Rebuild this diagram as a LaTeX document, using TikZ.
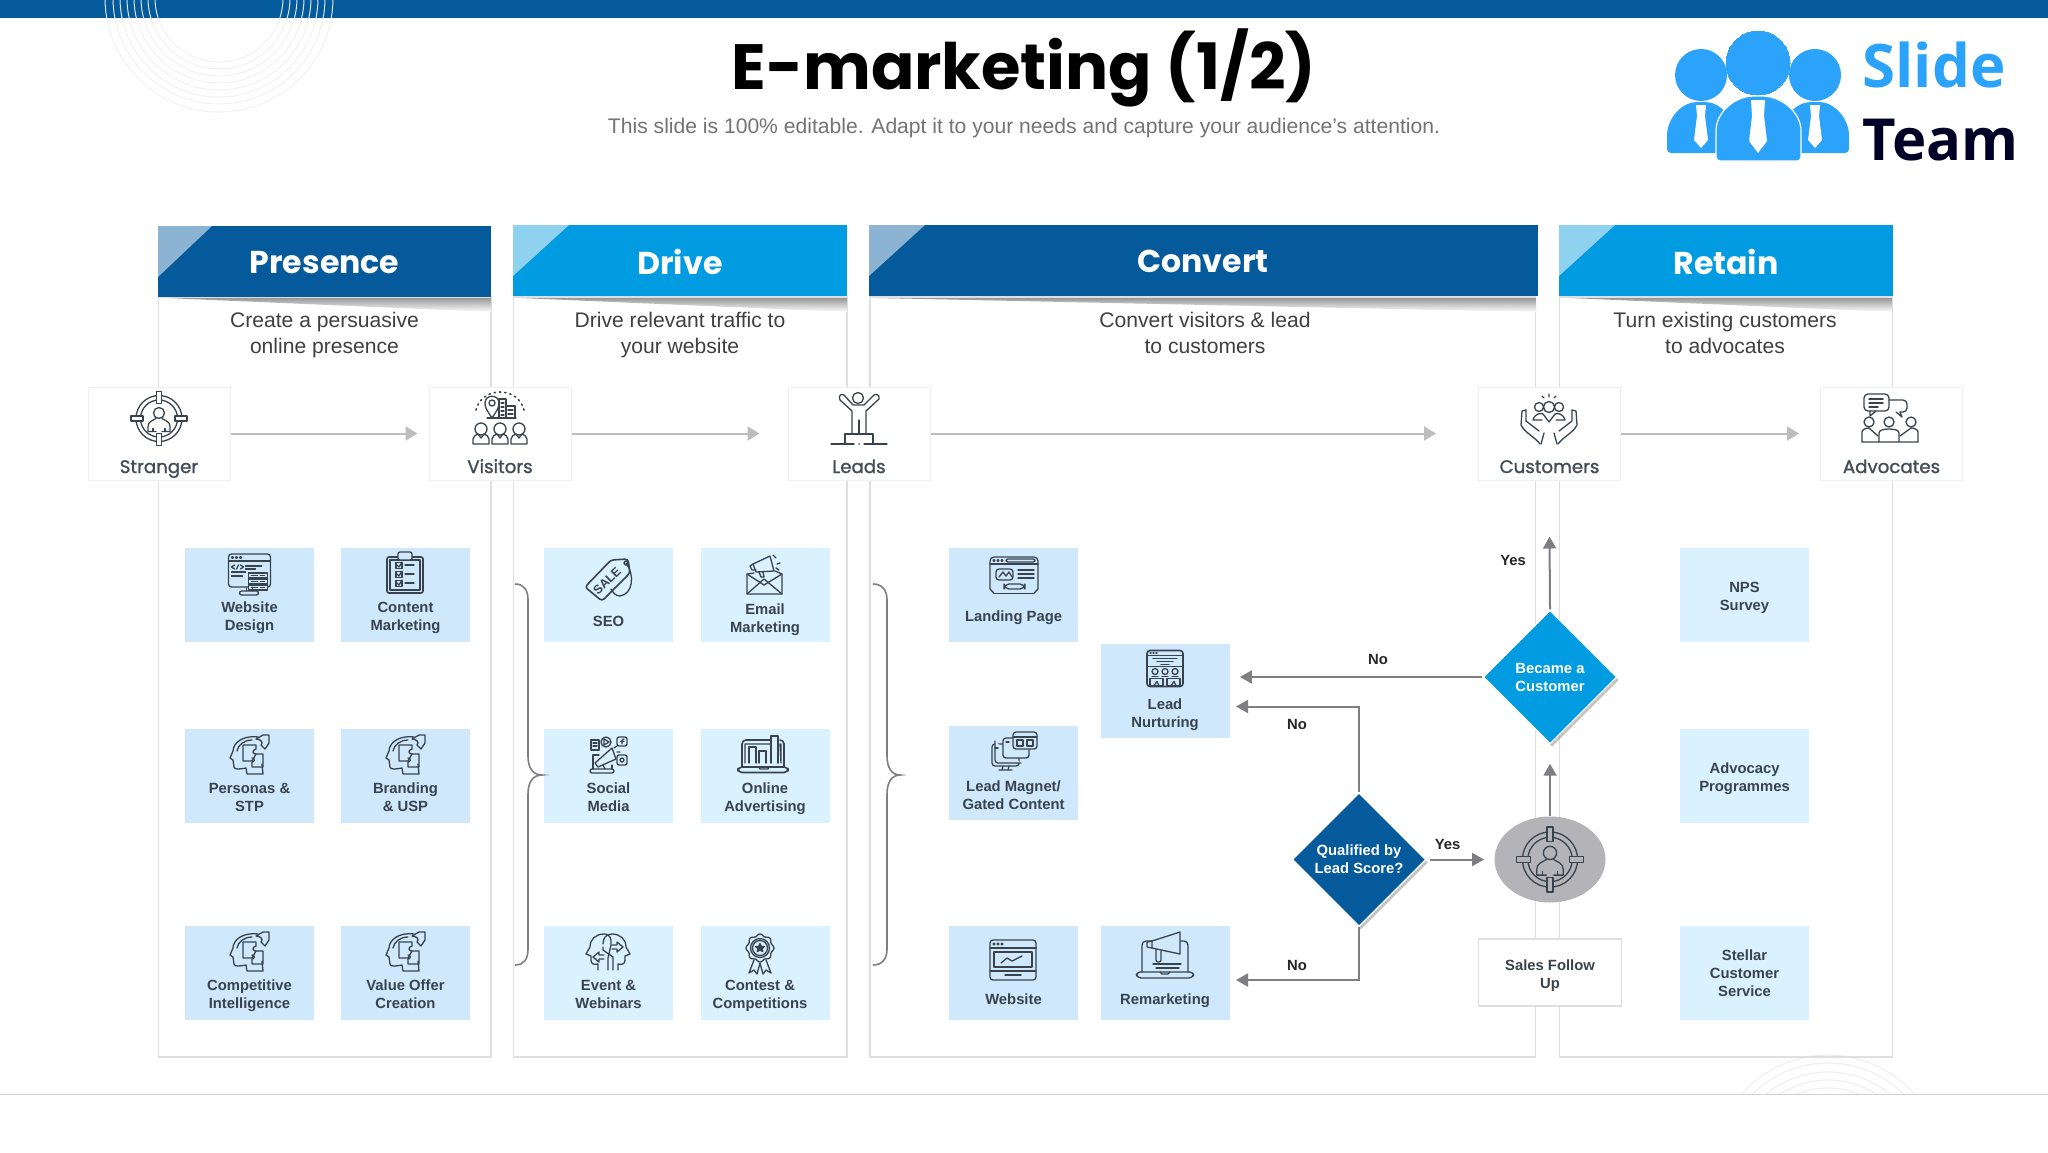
\documentclass[tikz,border=0pt]{standalone}
\usepackage{fontspec}
\setmainfont{Liberation Sans}
\newfontfamily\gothic{Poppins}
\newfontfamily\gothicmid{Poppins}[FakeBold=1.2]
\newfontfamily\logofont{Open Sans}
\usetikzlibrary{arrows.meta,shapes.geometric,shadows}
\definecolor{navy}{HTML}{055A9B}
\definecolor{sky}{HTML}{009BE0}
\definecolor{navytint}{HTML}{8DB3D2}
\definecolor{skytint}{HTML}{8FD2F0}
\definecolor{cardblue}{HTML}{CFE8FC}
\definecolor{cardpale}{HTML}{DAF1FE}
\definecolor{iconink}{HTML}{38434E}
\definecolor{logoblue}{HTML}{2BA3FB}
\definecolor{frameline}{HTML}{DEDFE2}
\definecolor{flowgrey}{HTML}{7F7F83}
\definecolor{stagegrey}{HTML}{BDBDC0}
\definecolor{oval}{HTML}{B4B4B8}
\tikzset{
	ink/.style={draw=iconink,line width=0.65pt,line cap=round,line join=round},
	panel/.style={draw=frameline,line width=0.7pt},
	cardbox/.style={fill=#1,minimum width=64.5pt,minimum height=47pt,inner sep=0pt},
	cardtext/.style={font=\bfseries\fontsize{7.4}{9}\selectfont,text=iconink,align=center,inner sep=0pt},
	stagebox/.style={draw=black!6,fill=white,line width=0.5pt,minimum width=71pt,minimum height=46.5pt,inner sep=0pt},
	stagetext/.style={font=\gothicmid\fontsize{9.1}{11}\selectfont,text=iconink!95,inner sep=0pt,anchor=base},
	headtext/.style={font=\gothic\bfseries\fontsize{15.8}{18}\selectfont,text=white,inner sep=0pt,yshift=-0.5pt},
	subtext/.style={font=\fontsize{10.55}{13}\selectfont,text=black!75,align=center,inner sep=0pt},
	decision/.style={diamond,aspect=1,fill=#1,draw=white,line width=0.7pt,minimum width=67pt,minimum height=67pt,inner sep=0pt,
		text=white,font=\bfseries\fontsize{7.4}{9}\selectfont,align=center,drop shadow={shadow xshift=1pt,shadow yshift=-1.5pt,fill=black!45}},
	flowline/.style={draw=flowgrey,line width=1pt,-{Triangle[length=6pt,width=6.5pt]}},
	stageline/.style={draw=stagegrey,line width=1pt,-{Triangle[length=6pt,width=7pt]}},
	flowtext/.style={font=\bfseries\fontsize{7.4}{9}\selectfont,text=black!85,inner sep=0pt},
	pics/targeticon/.style={code={
		\draw[ink] (0,0) circle (23);
		\draw[ink] (0,0) circle (18.5);
		\path[ink,pic actions] (-2.5,-27) rectangle (2.5,-15);
		\path[ink,pic actions] (-2.5,15) rectangle (2.5,27);
		\path[ink,pic actions] (-28,-2.5) rectangle (-16,2.5);
		\path[ink,pic actions] (16,-2.5) rectangle (28,2.5);
		\draw[ink] (0,-5.5) circle (5.5);
		\draw[ink] (-3,13) -- (-11,13) -- (-11,8) .. controls (-11,3) and (-6,2) .. (-3,0);
		\draw[ink] (3,13) -- (11,13) -- (11,8) .. controls (11,3) and (6,2) .. (3,0);
		\draw[ink] (-6,13) -- (-6,10) (6,13) -- (6,10);
	}},
	pics/visitoricon/.style={code={
		\draw[ink,dotted,line width=0.8pt] (-24,-8) .. controls (-18,-32) and (18,-32) .. (24,-8);
		\draw[ink] (-8,0) .. controls (-14,-9) and (-15,-11) .. (-15,-15) .. controls (-15,-24) and (-1,-24) .. (-1,-15) .. controls (-1,-11) and (-2,-9) .. (-8,0);
		\draw[ink] (-8,-15) circle (3);
		\draw[ink] (-1,-19) rectangle (6,0);
		\draw[ink] (6,-12) rectangle (15,0);
		\draw[ink] (-13,0) -- (16,0);
		\foreach \flr in {-15,-11,-7,-3} \draw[ink] (1,\flr) -- (4,\flr);
		\foreach \flr in {-8,-4} \draw[ink] (8,\flr) -- (13,\flr);
		\foreach \px in {-19,0,19}{
			\draw[ink] (\px,11) circle (6);
			\draw[ink] (\px-8,26) -- (\px-8,21) .. controls (\px-8,18) and (\px-5,17) .. (\px-3,16) -- (\px,20) -- (\px+3,16) .. controls (\px+5,17) and (\px+8,18) .. (\px+8,21) -- (\px+8,26) -- cycle;
		}
	}},
	pics/leadicon/.style={code={
		\draw[ink] (-1,-20) circle (5.5);
		\draw[ink] (-7,15) -- (-7,-7) -- (-19,-18) .. controls (-21,-22) and (-18,-25) .. (-15,-23) -- (-6,-13) -- (5,-13) -- (15,-23) .. controls (18,-25) and (21,-22) .. (20,-19) -- (7,-7) -- (7,15);
		\draw[ink] (0,2) -- (0,15);
		\draw[ink] (-14,26) -- (-14,16) -- (14,16) -- (14,26);
		\draw[ink] (-28,26) -- (-5,26) (5,26) -- (28,26) (0,26) -- (0.2,26);
	}},
	pics/customericon/.style={code={
		\draw[ink] (-23,-9) -- (-27,-8) -- (-28,6) .. controls (-24,14) and (-14,18) .. (-9,25);
		\draw[ink] (-23,-9) -- (-23,2) -- (-10,12);
		\draw[ink] (23,-9) -- (27,-8) -- (28,6) .. controls (24,14) and (14,18) .. (9,25);
		\draw[ink] (23,-9) -- (23,2) -- (10,12);
		\draw[ink] (-5,14) -- (-8,25) (5,14) -- (8,25);
		\draw[ink] (0,-12) circle (5.5) (-10,-12) circle (4.5) (10,-12) circle (4.5);
		\draw[ink] (-16,1) .. controls (-14,-6) and (-8,-6) .. (-6,-5) -- (0,3) -- (6,-5) .. controls (8,-6) and (14,-6) .. (16,1) -- (7,1) (-16,1) -- (-7,1);
		\draw[ink] (-7,-23) -- (-5,-21) (0,-25) -- (0,-22) (7,-23) -- (5,-21);
	}},
	pics/advocateicon/.style={code={
		\draw[ink,rounded corners=2pt] (-26,-24) rectangle (-1,-7);
		\draw[ink] (-20,-7) -- (-20,-2) -- (-14,-7);
		\draw[ink] (-21,-19) -- (-7,-19) (-21,-15) -- (-7,-15) (-21,-11) -- (-12,-11);
		\draw[ink,rounded corners=2pt] (-1,-18) -- (17,-18) -- (17,-6) -- (10,-6);
		\draw[ink] (10,-6) -- (12,-1) -- (6,-6);
		\draw[ink] (-21,4) circle (5) (-1,4) circle (5) (21,4) circle (5);
		\draw[ink] (-28,24) -- (28,24) (-11,24) -- (-11,15) .. controls (-11,12) and (-6,11) .. (-1,11) .. controls (4,11) and (9,12) .. (9,15) -- (9,24);
		\draw[ink] (-28,24) -- (-28,14) .. controls (-28,12) and (-25,10) .. (-21,10) -- (-12,18);
		\draw[ink] (28,24) -- (28,14) .. controls (28,12) and (25,10) .. (21,10) -- (10,18);
	}},
	pics/webdesignicon/.style={code={
		\draw[ink,rounded corners=1.5pt] (-21,-20) rectangle (21,13);
		\draw[ink] (-21,-13) -- (21,-13);
		\foreach \dotx in {-17,-13,-9} \draw[ink] (\dotx,-16.5) circle (1);
		\draw[ink] (-15,-9) -- (-18,-7) -- (-15,-5) (-13,-5) -- (-11,-9) (-9,-9) -- (-6,-7) -- (-9,-5);
		\draw[ink] (-4,-8) -- (12,-8) (-4,-5) -- (6,-5) (-18,-2) -- (-4,-2) (-18,2) -- (-7,2);
		\foreach \sty in {-1,5,11}{
			\draw[ink,fill=cardblue] (-1,\sty) rectangle (18,\sty+5);
			\draw[ink] (2,\sty+2.5) -- (8,\sty+2.5) (11,\sty+2.5) -- (15,\sty+2.5);
		}
		\draw[ink] (-3,13) -- (-3,17) (3,13) -- (3,17);
		\draw[ink,rounded corners=1pt] (-10,17) rectangle (9,21);
	}},
	pics/checklisticon/.style={code={
		\draw[ink,rounded corners=1pt,line width=0.8pt] (-18,-16) rectangle (18,20);
		\draw[ink] (-15,-13) rectangle (15,17);
		\draw[ink,rounded corners=1pt,fill=cardblue] (-7,-21) rectangle (7,-13);
		\foreach \rowy in {-8,1,10}{
			\draw[ink] (-9,\rowy-2.5) rectangle (-3,\rowy+3.5);
			\draw[ink] (-8,\rowy) -- (-6,\rowy+2) -- (-3,\rowy-3);
			\draw[ink] (0,\rowy) -- (9,\rowy);
		}
	}},
	pics/puzzlehead/.style={code={
		\draw[ink] (9,-18) .. controls (-6,-20) and (-16,-12) .. (-16,-4) -- (-19,3) -- (-16,5) -- (-15,12) .. controls (-15,15) and (-8,14) .. (-3,13) -- (-2,19) -- (14,19) -- (13,9);
		\draw[ink] (-12,-4) .. controls (-11,-10) and (-5,-15) .. (3,-15);
		\draw[ink] (-6,-10) -- (7,-10) -- (7,-6) .. controls (3,-5) and (3,-1) .. (7,-1) -- (3,6) -- (-6,6) -- cycle;
		\draw[ink] (7,-1) -- (14,-1) -- (14,12) -- (3,12) -- (3,7) .. controls (6,7) and (6,3) .. (3,3);
		\draw[ink] (7,-16) -- (14,-20) -- (20,-20) -- (20,-12) -- (16,-6) -- (12,-10) .. controls (15,-13) and (11,-16) .. (7,-16);
	}},
	pics/tagicon/.style={code={
		\draw[ink,line width=0.8pt,rounded corners=1.5pt] (-24,7) -- (-7,21) -- (21,-7) -- (19,-21) -- (2,-20) -- cycle;
		\draw[ink] (17,-17) circle (2);
		\draw[ink] (17,-17) .. controls (26,-5) and (24,14) .. (11,16) .. controls (6,16) and (4,12) .. (2,9);
		\node[font=\bfseries\fontsize{6.2}{7}\selectfont,text=iconink,rotate=44,inner sep=0pt] (saletag) at (-2,1) {SALE};
	}},
	pics/envelopeicon/.style={code={
		\draw[ink] (-11,-2) -- (-18,-1) -- (-18,19) -- (17,19) -- (17,-1) -- (10,-4);
		\draw[ink] (-18,19) -- (-1,4) -- (17,19);
		\draw[ink] (-18,-1) -- (-1,10) -- (17,-1);
		\draw[ink,fill=cardpale] (-12,-11) -- (5,-19) -- (9,-4) -- (-9,-3) -- cycle;
		\draw[ink] (-12,-11) -- (-15,-9) -- (-13,-5) -- (-9,-5);
		\draw[ink] (-6,-3) -- (-4,2) -- (-1,2) -- (-2,-3);
		\draw[ink] (8,-20) -- (11,-17) (12,-11) -- (15,-12) (11,-7) -- (14,-5);
	}},
	pics/socialicon/.style={code={
		\draw[ink] (-18,-15) rectangle (-10,-5);
		\draw[ink] (-16,-12) -- (-12,-12) (-16,-9) -- (-12,-9);
		\draw[ink] (-3,-13) circle (5);
		\draw[ink] (-5,-16) -- (-5,-10) -- (0,-13) -- cycle;
		\draw[ink,rounded corners=1pt] (8,-18) rectangle (18,-9);
		\draw[ink] (13,-11) -- (13,-15) -- (15,-16) (11.5,-13.5) -- (15,-13.5);
		\draw[ink,rounded corners=1pt] (8,0) rectangle (18,10);
		\draw[ink] (13,5) circle (2);
		\draw[ink] (-16,14) -- (-16,0) -- (-10,0) (3,10) -- (3,14);
		\draw[ink,rounded corners=1pt] (-19,14) rectangle (5,18);
		\draw[ink,fill=cardpale] (-14,8) -- (3,-7) -- (7,4) -- (-11,12) -- cycle;
		\draw[ink] (-6,10) -- (-4,14);
		\draw[ink] (5,-7) -- (8,-9) (8,-3) -- (11,-3);
	}},
	pics/adsicon/.style={code={
		\draw[ink,line width=0.8pt,rounded corners=2pt] (-22,12) -- (-22,-15) -- (7,-15) (16,-15) -- (20,-15) -- (20,12);
		\draw[ink] (-19,8) -- (-19,-11) -- (7,-11) (16,-11) -- (17,-11) -- (17,8) -- cycle;
		\draw[ink,line width=0.8pt,rounded corners=2pt] (-26,12) rectangle (24,17.5);
		\draw[ink] (-5,12) -- (-4,14) -- (4,14) -- (5,12);
		\draw[ink] (-15,8) -- (-15,-8) -- (-8,-8) -- (-8,8);
		\draw[ink] (-5,8) -- (-5,-4) -- (2,-4) -- (2,8);
		\draw[ink,line width=0.8pt] (7,8) -- (7,-19) -- (14,-19) -- (14,8);
	}},
	pics/brainicon/.style={code={
		\draw[ink] (-10,18) -- (-10,12) .. controls (-14,13) and (-17,12) .. (-17,8) -- (-17,4) -- (-22,2) -- (-18,-5) .. controls (-18,-13) and (-12,-18) .. (-4,-18) .. controls (0,-18) and (2,-16) .. (3,-12) -- (3,-7) -- (0,6) -- (0,18);
		\draw[ink] (10,18) -- (10,12) .. controls (14,13) and (17,12) .. (17,8) -- (17,4) -- (22,2) -- (18,-5) .. controls (18,-13) and (12,-18) .. (4,-18) .. controls (-2,-18) and (-5,-14) .. (-5,-8);
		\draw[ink] (5,18) -- (5,5) -- (-5,-2) -- (-5,-5);
		\draw[ink] (4,-7) -- (9,-7) -- (9,-10) -- (15,-5) -- (9,0) -- (9,-3) -- (4,-3);
		\draw[ink] (-4,3) -- (-9,3) -- (-9,0) -- (-15,5) -- (-9,10) -- (-9,7) -- (-4,7);
	}},
	pics/rosetteicon/.style={code={
		\draw[ink] plot[domain=0:360,samples=73,smooth] ({(13+1*cos(8*\x))*cos(\x)},{-6+(13+1*cos(8*\x))*sin(\x)});
		\draw[ink] (0,-6) circle (9.5) (0,-6) circle (7.5);
		\draw[ink,fill=iconink] (0,-10.5) -- (1.3,-7.6) -- (4.4,-7.4) -- (2,-5.4) -- (2.8,-2.4) -- (0,-4) -- (-2.8,-2.4) -- (-2,-5.4) -- (-4.4,-7.4) -- (-1.3,-7.6) -- cycle;
		\draw[ink] (-6,6) -- (-11,19) -- (-6,16) -- (-3,20) -- (0,9) -- (3,20) -- (6,16) -- (11,19) -- (6,6);
	}},
	pics/landingicon/.style={code={
		\draw[ink,rounded corners=2pt] (-24,14) -- (-24,-18) -- (24,-18) -- (24,14);
		\draw[ink,rounded corners=2pt] (-20,18.2) -- (-24,14) (24,14) -- (20,18.2);
		\draw[ink] (-20,18.2) -- (20,18.2);
		\draw[ink] (-24,-11) -- (24,-11);
		\foreach \dotx in {-20,-16,-12} \draw[ink] (\dotx,-14.5) circle (1);
		\draw[ink,rounded corners=1pt] (-8,-16) rectangle (21,-13);
		\draw[ink,rounded corners=1.5pt] (-18,-6) rectangle (-1,5);
		\draw[ink] (-15,2) -- (-11,-3) -- (-8,1) -- (-5,-3) -- (-2,2);
		\draw[ink] (4,-5) -- (20,-5) (4,-1) -- (20,-1) (4,3) -- (20,3);
		\draw[ink,rounded corners=2.5pt] (-10,9) rectangle (11,14);
	}},
	pics/magneticon/.style={code={
		\draw[ink,rounded corners=1.5pt,fill=cardblue] (-22,-8) rectangle (5,14);
		\draw[ink,rounded corners=1.5pt,fill=cardblue] (-19,-11) -- (-19,11) -- (7,11);
		\draw[ink] (-22,14) (-5,14) -- (-6,18) (-11,14) -- (-12,18) (-15,18) -- (-2,18);
		\draw[ink,rounded corners=1.5pt,fill=cardblue] (-11,-14) rectangle (15,6);
		\draw[ink,rounded corners=1.5pt,fill=cardblue] (-1,-20) rectangle (23,-3);
		\draw[ink] (-1,-15) -- (23,-15);
		\draw[ink] (3,-12) rectangle (9,-6) (13,-12) rectangle (19,-6);
		\draw[ink] (-19,-4) -- (-16,-4) (-8,-10) -- (-5,-10);
	}},
	pics/funnelicon/.style={code={
		\draw[ink,rounded corners=1.5pt,line width=0.8pt] (-18,-18) rectangle (18,18);
		\draw[ink] (-18,-13) -- (18,-13) (-18,-2) -- (18,-2);
		\draw[ink] (-15,-15.5) -- (-14,-15.5) (-12,-15.5) -- (-11,-15.5) (-9,-15.5) -- (-8,-15.5);
		\draw[ink] (-12,-10) -- (12,-10) (-8,-7) -- (8,-7) (-4,-4) -- (4,-4);
		\foreach \dotx in {-10,0,10} \draw[ink] (\dotx,3) circle (3);
		\foreach \dotx in {-10,0,10} \draw[ink] (\dotx-3,8) -- (\dotx+3,8);
		\draw[ink] (-15,10) rectangle (-2,17) (2,10) rectangle (15,17);
		\draw[ink] (-11,17) -- (-8,13) -- (-6,17) (6,17) -- (9,13) -- (11,17);
	}},
	pics/webpageicon/.style={code={
		\draw[ink,rounded corners=1.5pt] (-23,-20) rectangle (23,20);
		\draw[ink] (-23,-12) -- (23,-12) (-23,11) -- (23,11);
		\foreach \dotx in {-19,-15,-11} \draw[ink] (\dotx,-16) circle (1);
		\draw[ink] (-19,-8) rectangle (19,7);
		\draw[ink] (-12,3) -- (-6,-2) -- (-1,1) -- (9,-4);
		\draw[ink] (-8,15) -- (8,15);
	}},
	pics/remarketicon/.style={code={
		\draw[ink,rounded corners=2pt] (-23,17) -- (-23,-14) -- (-12,-14) (14,-14) -- (23,-14) -- (23,17);
		\draw[ink,rounded corners=2pt] (-29,17) -- (29,17) -- (28,23) -- (-28,23) -- cycle;
		\draw[ink] (-5,17) -- (-3,19) -- (3,19) -- (5,17);
		\draw[ink,fill=cardblue] (-13,-14) -- (15,-23) -- (15,-1) -- (-13,-7) -- cycle;
		\draw[ink] (-13,-14) -- (-18,-13) -- (-18,-8) -- (-13,-7);
		\draw[ink,rounded corners=1pt] (-9,-6) -- (-9,7) -- (-4,7) -- (-4,-4);
		\draw[ink] (-12,9) -- (16,9) (-9,13) -- (14,13);
	}},
}
\begin{document}
\begin{tikzpicture}[x=0.5pt,y=-0.5pt]
	\useasboundingbox (0,0) rectangle (2048,1152);
	\fill[white] (0,0) rectangle (2048,1152);
	% rings in the corners
	\begin{scope}
		\clip (0,18) rectangle (400,130);
		\foreach \ringr in {64,71,78,85,92,99,106,114} \draw[black!5,line width=0.5pt] (219,-2) circle (\ringr);
	\end{scope}
	\begin{scope}
		\clip (1600,1000) rectangle (2048,1094);
		\foreach \ringr in {82,90,98,107,115} \draw[black!6,line width=0.6pt] (1828,1170) circle (\ringr);
	\end{scope}
	\fill[navy] (0,0) rectangle (2048,18);
	\begin{scope}
		\clip (0,0) rectangle (400,18);
		\foreach \ringr in {64,71,78,85,92,99,106,114} \draw[white!85!navy,line width=0.5pt] (219,-2) circle (\ringr);
	\end{scope}
	\draw[black!18,line width=0.5pt] (0,1094) -- (2048,1094);
	% title
	\node[font=\gothic\bfseries\fontsize{32}{38}\selectfont,inner sep=0pt] (title) at (1024,68) {E-marketing (1/2)};
	\node[font=\fontsize{10.55}{13}\selectfont,text=black!55,inner sep=0pt] (subtitle) at (1024,128) {This slide is 100\% editable. Adapt it to your needs and capture your audience's attention.};
	% logo
	\fill[logoblue] (1701,75) circle (26);
	\fill[logoblue] (1815,75) circle (26);
	\fill[logoblue,rounded corners=2pt] (1667,153) -- (1667,140) .. controls (1667,118) and (1682,102) .. (1701,102) .. controls (1720,102) and (1735,118) .. (1735,140) -- (1735,153) -- cycle;
	\fill[logoblue,rounded corners=2pt] (1781,153) -- (1781,140) .. controls (1781,118) and (1796,102) .. (1815,102) .. controls (1834,102) and (1849,118) .. (1849,140) -- (1849,153) -- cycle;
	\fill[white] (1701,105) -- (1696,105) -- (1697,116) -- (1694,140) -- (1701,148) -- (1708,140) -- (1705,116) -- (1706,105) -- cycle;
	\fill[white] (1815,105) -- (1810,105) -- (1811,116) -- (1808,140) -- (1815,148) -- (1822,140) -- (1819,116) -- (1820,105) -- cycle;
	\draw[logoblue,fill=logoblue,line width=0pt] (1758,63) circle (32);
	\draw[white,line width=0.6pt,fill=logoblue,rounded corners=2pt] (1716,161) -- (1716,135) .. controls (1716,112) and (1735,96) .. (1758,96) .. controls (1781,96) and (1801,112) .. (1801,135) -- (1801,161) -- cycle;
	\fill[white] (1751,100) -- (1765,100) -- (1764,116) -- (1767,141) -- (1758,153) -- (1749,141) -- (1752,116) -- cycle;
	\node[font=\logofont\bfseries\fontsize{30}{34}\selectfont,text=logoblue,inner sep=0pt,anchor=base west] (slideword) at (1862,87) {Slide};
	\node[font=\logofont\bfseries\fontsize{29}{34}\selectfont,text=black!85!blue,inner sep=0pt,anchor=base west] (teamword) at (1862,160) {Team};
	% panels
	\draw[panel] (158.5,297) rectangle (491,1057);
	\draw[panel] (513.5,297) rectangle (847,1057);
	\draw[panel] (870,297) rectangle (1535.5,1057);
	\draw[panel] (1559.5,297) rectangle (1892.5,1057);
	% headers
	\node[fill=navy,minimum width=166.5pt,minimum height=35.5pt,inner sep=0pt] (presence) at (324.5,261.5) {};
	\fill[navytint] (158,226) -- (212,226) -- (158,277) -- cycle;
	\node[headtext] at (presence) {Presence};
	\node[fill=sky,minimum width=167pt,minimum height=35.5pt,inner sep=0pt] (drive) at (680,260.5) {};
	\fill[skytint] (513,225) -- (569,225) -- (513,276) -- cycle;
	\node[headtext] at (drive) {Drive};
	\node[fill=navy,minimum width=334.5pt,minimum height=35.5pt,inner sep=0pt] (convert) at (1203,260.5) {};
	\fill[navytint] (869,225) -- (925,225) -- (869,276) -- cycle;
	\node[headtext] at (convert) {Convert};
	\node[fill=sky,minimum width=167pt,minimum height=35.5pt,inner sep=0pt] (retain) at (1726,260.5) {};
	\fill[skytint] (1559,225) -- (1615,225) -- (1559,276) -- cycle;
	\node[headtext] at (retain) {Retain};
	% wedges under the headers
	\shade[top color=black!40,bottom color=white] (166,298) -- (491,298) -- (491,312) -- cycle;
	\shade[top color=black!40,bottom color=white] (521,298) -- (847,298) -- (847,312) -- cycle;
	\shade[top color=black!40,bottom color=white] (877,298) -- (1536,298) -- (1536,312) -- cycle;
	\shade[top color=black!40,bottom color=white] (1570,298) -- (1892,298) -- (1892,312) -- cycle;
	\node[subtext] (presencenote) at (324.5,335) {Create a persuasive\\online presence};
	\node[subtext] (drivenote) at (680,335) {Drive relevant traffic to\\your website};
	\node[subtext] (convertnote) at (1205,333) {Convert visitors \& lead\\to customers};
	\node[subtext] (retainnote) at (1725,333) {Turn existing customers\\to advocates};
	% stages
	\node[stagebox] (stranger) at (159,433.5) {};
	\node[stagebox] (visitors) at (500,433.5) {};
	\node[stagebox] (leads) at (859,433.5) {};
	\node[stagebox] (customers) at (1549.5,433.5) {};
	\node[stagebox] (advocates) at (1891.5,433.5) {};
	\node[stagetext] at (159,473) {Stranger};
	\node[stagetext] at (500,473) {Visitors};
	\node[stagetext] at (859,473) {Leads};
	\node[stagetext] at (1549.5,473) {Customers};
	\node[stagetext] at (1891.5,473) {Advocates};
	\pic[fill=white] at (159,418.5) {targeticon};
	\pic at (500,418) {visitoricon};
	\pic at (859,418) {leadicon};
	\pic at (1549,419) {customericon};
	\pic at (1890,418) {advocateicon};
	\draw[stageline,shorten >=5.5pt] (stranger.east) -- (visitors.west);
	\draw[stageline,shorten >=14pt] (visitors.east) -- (leads.west);
	\draw[stageline,shorten >=21pt] (leads.east) -- (customers.west);
	\draw[stageline,shorten >=10.5pt] (customers.east) -- (advocates.west);
	% presence cards
	\node[cardbox=cardblue] (websitedesign) at (249.5,595) {};
	\node[cardbox=cardblue] (contentmarketing) at (405.5,595) {};
	\node[cardbox=cardblue] (personas) at (249.5,776) {};
	\node[cardbox=cardblue] (branding) at (405.5,776) {};
	\node[cardbox=cardblue] (intelligence) at (249.5,973) {};
	\node[cardbox=cardblue] (valueoffer) at (405.5,973) {};
	\node[cardtext] at (249.5,618) {Website\\Design};
	\node[cardtext] at (405.5,618) {Content\\Marketing};
	\node[cardtext] at (249.5,797) {Personas \&\\STP};
	\node[cardtext] at (405.5,797) {Branding\\\& USP};
	\node[cardtext] at (249.5,996) {Competitive\\Intelligence};
	\node[cardtext] at (405.5,994) {Value Offer\\Creation};
	\pic at (249.5,574) {webdesignicon};
	\pic at (405,573) {checklisticon};
	\pic at (249,755) {puzzlehead};
	\pic at (405,755) {puzzlehead};
	\pic at (249,952) {puzzlehead};
	\pic at (405,952) {puzzlehead};
	% drive cards
	\node[cardbox=cardpale] (seo) at (608.5,595) {};
	\node[cardbox=cardpale] (emailmarketing) at (765,595) {};
	\node[cardbox=cardpale] (socialmedia) at (608.5,776) {};
	\node[cardbox=cardpale] (onlineads) at (765,776) {};
	\node[cardbox=cardpale] (webinars) at (608.5,973) {};
	\node[cardbox=cardpale] (contests) at (765,973) {};
	\node[cardtext] at (608.5,621) {SEO};
	\node[cardtext] at (765,620) {Email\\Marketing};
	\node[cardtext] at (608.5,797) {Social\\Media};
	\node[cardtext] at (765,798.5) {Online\\Advertising};
	\node[cardtext] at (608.5,994) {Event \&\\Webinars};
	\node[cardtext] at (760,996) {Contest \&\\Competitions};
	\pic at (609,580) {tagicon};
	\pic at (765,575) {envelopeicon};
	\pic at (609,755) {socialicon};
	\pic at (764,755) {adsicon};
	\pic at (608,952) {brainicon};
	\pic at (760,954) {rosetteicon};
	% braces
	\draw[flowgrey,line width=0.8pt] (515,584) .. controls (524,584) and (528,590) .. (528,600) -- (528,756) .. controls (528,768) and (533,775) .. (542,775) .. controls (533,775) and (528,782) .. (528,794) -- (528,949) .. controls (528,959) and (524,965) .. (515,965);
	\draw[flowgrey,line width=0.8pt] (873,584) .. controls (882,584) and (887,590) .. (887,600) -- (887,756) .. controls (887,768) and (892,775) .. (900,775) .. controls (892,775) and (887,782) .. (887,794) -- (887,949) .. controls (887,959) and (882,965) .. (873,965);
	% convert cards
	\node[cardbox=cardblue] (landingpage) at (1013.5,595) {};
	\node[cardbox=cardblue] (leadmagnet) at (1013.5,773) {};
	\node[cardbox=cardblue] (website) at (1013.5,973) {};
	\node[cardbox=cardblue] (nurturing) at (1165,690.5) {};
	\node[cardbox=cardblue] (remarketing) at (1165,973) {};
	\node[cardtext] at (1013.5,618) {Landing Page};
	\node[cardtext] at (1013.5,795) {Lead Magnet/\\Gated Content};
	\node[cardtext] at (1013.5,999) {Website};
	\node[cardtext] at (1165,714.5) {Lead\\Nurturing};
	\node[cardtext] at (1165,1001) {Remarketing};
	\pic at (1014,575) {landingicon};
	\pic at (1014,752) {magneticon};
	\pic at (1165,668.5) {funnelicon};
	\pic at (1013,960) {webpageicon};
	\pic at (1165,955) {remarketicon};
	% retain cards
	\node[cardbox=cardpale] (npssurvey) at (1744.5,595) {};
	\node[cardbox=cardpale] (advocacy) at (1744.5,776) {};
	\node[cardbox=cardpale] (stellar) at (1744.5,973) {};
	\node[cardtext] at (1744.5,597.5) {NPS\\Survey};
	\node[cardtext] at (1744.5,778.5) {Advocacy\\Programmes};
	\node[cardtext] at (1744.5,973) {Stellar\\Customer\\Service};
	% decision flow
	\node[decision=sky] (became) at (1550,677) {Became a\\Customer};
	\node[decision=navy] (qualified) at (1359,859.5) {Qualified by\\Lead Score?};
	\node[ellipse,fill=oval,minimum width=55.5pt,minimum height=43pt,inner sep=0pt] (salesoval) at (1550,859.5) {};
	\pic[fill=oval,scale=1.2] at (1550,859.5) {targeticon};
	\node[draw=frameline,fill=white,line width=0.7pt,minimum width=71.5pt,minimum height=33.5pt,inner sep=0pt] (salesbox) at (1550,972.5) {};
	\node[cardtext] at (1550,975.5) {Sales Follow\\Up};
	\coordinate (nurtureport) at (1230,706.5);
	\coordinate (remarketport) at (1230,980);
	\draw[flowline] (became.north) -- ([yshift=-28pt]customers.south);
	\draw[flowline,shorten >=9.5pt] (salesoval.north) -- (became.south);
	\draw[flowline,shorten >=5pt] (became.west) -- (became.west -| nurturing.east);
	\draw[flowline,shorten >=3pt] (qualified.north) |- (nurtureport);
	\draw[flowline,shorten >=3pt] (qualified.south) |- (remarketport);
	\draw[flowline,shorten <=1.5pt,shorten >=5pt] (qualified.east) -- (salesoval.west);
	\node[flowtext] (noone) at (1378,659) {No};
	\node[flowtext] (notwo) at (1297,724) {No};
	\node[flowtext] (nothree) at (1297,965) {No};
	\node[flowtext] (yesone) at (1513,560) {Yes};
	\node[flowtext] (yestwo) at (1447.5,844) {Yes};
\end{tikzpicture}
\end{document}
